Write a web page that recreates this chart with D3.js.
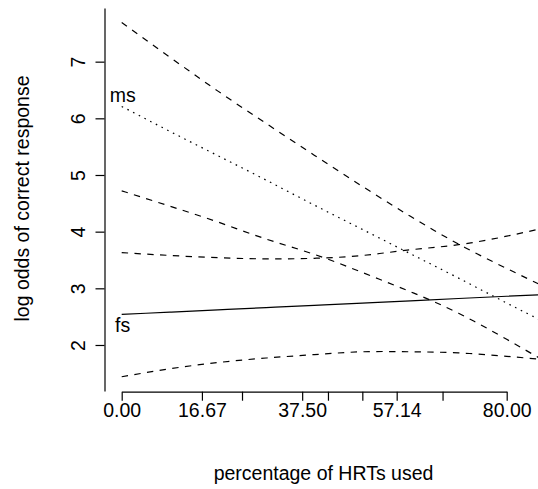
<!DOCTYPE html>
<html>
<head>
<meta charset="utf-8">
<script src="https://cdn.jsdelivr.net/npm/d3@7"></script>
<style>
  html, body { margin: 0; padding: 0; background: #fff; }
  svg { display: block; }
  text { font-family: "Liberation Sans", Arial, Helvetica, sans-serif; fill: #000; }
</style>
</head>
<body>
<svg id="chart" width="538" height="489"></svg>
<script>
// Percentage of HRTs used (x) at which the fitted log odds were evaluated
const pctHRT = [0, 10, 20, 30, 40, 50, 60, 70, 80, 88];

// Fitted log odds and confidence limits, "ms" group
const msFit   = [6.21, 5.77, 5.34, 4.91, 4.47, 4.04, 3.61, 3.18, 2.74, 2.40];
const msUpper = [7.69, 7.08, 6.48, 5.91, 5.35, 4.80, 4.27, 3.78, 3.35, 3.02];
const msLower = [4.72, 4.45, 4.17, 3.87, 3.60, 3.28, 2.94, 2.56, 2.10, 1.71];

// Fitted log odds and confidence limits, "fs" group
const fsFit   = [2.54, 2.58, 2.62, 2.66, 2.70, 2.74, 2.78, 2.82, 2.86, 2.89];
const fsUpper = [3.63, 3.58, 3.54, 3.52, 3.53, 3.58, 3.68, 3.77, 3.92, 4.07];
const fsLower = [1.44, 1.58, 1.69, 1.77, 1.83, 1.88, 1.88, 1.86, 1.80, 1.74];

// Axis ticks
const xTicks = [0, 16.67, 25, 37.5, 42.86, 50, 57.14, 66.67, 80];
const xLabelled = [0, 16.67, 37.5, 57.14, 80];
const yTicks = [2, 3, 4, 5, 6, 7];

const groupLabels = ["ms", "fs"];
const xTitle = "percentage of HRTs used";
const yTitle = "log odds of correct response";

const svg = d3.select("#chart");
const W = 538, H = 489;
const fontSize = 19.5;

const x = d3.scaleLinear().domain([0, 80]).range([121.7, 506.7]);
const y = d3.scaleLinear().domain([1.188, 7.947]).range([391, 8]);

const axisY = 391.7, axisX = 104.5;

// Curves
const series = [
  { vals: msUpper, dash: "6.4,6.4" },
  { vals: msFit,   dash: "1.6,4.8" },
  { vals: msLower, dash: "6.4,6.4" },
  { vals: fsUpper, dash: "6.4,6.4" },
  { vals: fsFit,   dash: null },
  { vals: fsLower, dash: "6.4,6.4" }
];

svg.append("defs").append("clipPath").attr("id", "plotClip")
  .append("rect").attr("x", axisX).attr("y", 0).attr("width", W - axisX).attr("height", axisY);

const line = d3.line()
  .x((d, i) => x(pctHRT[i]))
  .y(d => y(d))
  .curve(d3.curveNatural);

const g = svg.append("g").attr("clip-path", "url(#plotClip)");
series.forEach(s => {
  g.append("path")
    .attr("d", line(s.vals))
    .attr("fill", "none")
    .attr("stroke", "#000")
    .attr("stroke-width", 1.2)
    .attr("stroke-dasharray", s.dash);
});

// Group labels near the start of each fitted line
svg.append("text")
  .attr("x", x(0) + 1)
  .attr("y", y(msFit[0]) - 4)
  .attr("text-anchor", "middle")
  .attr("font-size", fontSize)
  .text(groupLabels[0]);
svg.append("text")
  .attr("x", x(0) + 1)
  .attr("y", y(fsFit[0]) + 18)
  .attr("text-anchor", "middle")
  .attr("font-size", fontSize)
  .text(groupLabels[1]);

// X axis
const xAxis = d3.axisBottom(x)
  .tickValues(xTicks)
  .tickSizeInner(9)
  .tickSizeOuter(0)
  .tickFormat(d => xLabelled.includes(d) ? d3.format(".2f")(d) : "");
const gx = svg.append("g").attr("transform", `translate(0,${axisY})`).call(xAxis);
gx.selectAll("path, line").attr("stroke", "#000").attr("stroke-width", 1.2);
gx.selectAll("text")
  .attr("y", 25.3).attr("dy", null)
  .attr("font-size", fontSize)
  .attr("font-family", null);

// Y axis
const yAxis = d3.axisLeft(y)
  .tickValues(yTicks)
  .tickSizeInner(9)
  .tickSizeOuter(0)
  .tickFormat(d3.format("d"));
const gy = svg.append("g").attr("transform", `translate(${axisX},0)`).call(yAxis);
gy.selectAll("path, line").attr("stroke", "#000").attr("stroke-width", 1.2);
gy.selectAll("text")
  .attr("x", null).attr("y", null).attr("dy", null)
  .attr("text-anchor", "middle")
  .attr("transform", "translate(-19.5,0) rotate(-90)")
  .attr("font-size", fontSize)
  .attr("font-family", null);

// Axis titles
svg.append("text")
  .attr("x", 323.5).attr("y", 480)
  .attr("text-anchor", "middle")
  .attr("font-size", fontSize)
  .text(xTitle);
svg.append("text")
  .attr("transform", "translate(28.5,198.5) rotate(-90)")
  .attr("text-anchor", "middle")
  .attr("font-size", fontSize)
  .text(yTitle);
</script>
</body>
</html>
